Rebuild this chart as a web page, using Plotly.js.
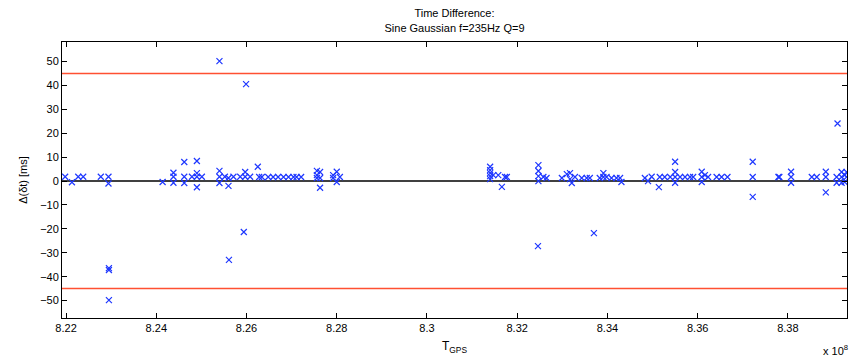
<!DOCTYPE html>
<html>
<head>
<meta charset="utf-8">
<script src="https://cdn.plot.ly/plotly-3.0.1.min.js"></script>
<style>html,body{margin:0;padding:0;background:#fff;}#chart{width:865px;height:364px;}</style>
</head>
<body>
<div id="chart"></div>
<script>
// Event times (units of 1e8 s) and time differences (ms)
const tgps = [
8.2198,8.2213,8.2227,8.2238,8.2277,8.2294,8.2294,8.2295,8.2295,8.2295,
8.2414,8.2438,8.2438,8.2438,8.2462,8.2462,8.2462,8.2479,8.2490,8.2490,
8.2490,8.2490,8.2501,8.2540,8.2540,8.2540,8.2540,8.2552,8.2560,8.2560,
8.2561,8.2571,8.2586,8.2594,8.2597,8.2597,8.2599,8.2608,8.2625,8.2628,
8.2634,8.2648,8.2659,8.2670,8.2682,8.2693,8.2704,8.2711,8.2721,8.2756,
8.2756,8.2756,8.2763,8.2763,8.2763,8.2792,8.2792,8.2800,8.2800,8.2807,
8.3140,8.3140,8.3140,8.3140,8.3140,8.3147,8.3158,8.3166,8.3173,8.3177,
8.3247,8.3247,8.3247,8.3247,8.3258,8.3265,8.3246,8.3299,8.3310,8.3317,
8.3317,8.3321,8.3328,8.3343,8.3354,8.3361,8.3370,8.3383,8.3391,8.3391,
8.3398,8.3409,8.3420,8.3428,8.3431,8.3483,8.3490,8.3498,8.3514,8.3516,
8.3527,8.3539,8.3550,8.3550,8.3550,8.3550,8.3561,8.3572,8.3583,8.3590,
8.3609,8.3609,8.3609,8.3616,8.3623,8.3642,8.3653,8.3666,8.3722,8.3722,
8.3722,8.3779,8.3781,8.3807,8.3807,8.3807,8.3853,8.3864,8.3884,8.3884,
8.3884,8.3910,8.3908,8.3908,8.3919,8.3919,8.3919,8.3926,8.3926,8.3930,
8.3930
];
const deltaT = [
1.8,-0.5,1.8,1.8,1.8,1.8,-1.0,-36.4,-37.2,-49.8,
-0.4,3.5,1.8,-0.7,8.0,1.8,-0.8,1.8,8.4,3.3,
1.8,-2.6,1.8,50.2,4.3,1.8,-0.8,1.8,1.3,-2.0,
-33.0,1.8,1.8,-21.3,3.8,1.8,40.6,1.8,6.0,1.7,
1.7,1.7,1.7,1.7,1.7,1.7,1.7,1.7,1.7,4.3,
2.5,1.3,3.8,1.3,-2.8,2.5,1.3,3.9,-0.4,1.7,
6.0,4.6,3.3,2.1,0.8,2.5,2.5,-2.4,1.7,1.7,
6.7,4.2,2.1,0.0,1.7,1.3,-27.2,1.3,2.9,3.3,
0.8,-0.8,1.7,1.3,1.3,1.3,-21.8,1.3,3.3,1.7,
1.7,1.3,1.3,1.3,-0.4,1.3,0.0,1.8,-2.5,1.7,
1.7,1.7,8.1,3.8,1.7,-0.7,1.7,1.7,1.7,1.7,
3.9,1.7,-0.4,2.5,1.7,1.7,1.7,1.7,8.1,1.7,
-6.6,1.7,1.7,3.9,1.7,-0.7,1.7,1.7,3.9,1.7,
-4.7,24.1,1.7,-0.7,3.8,1.7,-0.7,2.5,-0.4,3.8,
1.7
];
const xRange = [8.2191, 8.3931];
const yRange = [-57.3, 58.2];
const thresholdHi = [45, 45];
const thresholdLo = [-45, -45];
const zeroLine = [0, 0];
const xTickVals = [8.22,8.24,8.26,8.28,8.30,8.32,8.34,8.36,8.38];
const xTickText = ["8.22","8.24","8.26","8.28","8.3","8.32","8.34","8.36","8.38"];
const yTickVals = [-50,-40,-30,-20,-10,0,10,20,30,40,50];

const font = "Liberation Sans, Arial, Helvetica, sans-serif";

const traces = [
  {x: xRange, y: thresholdHi, mode: 'lines', line: {color: 'rgb(255,80,50)', width: 1.5}, hoverinfo: 'skip'},
  {x: xRange, y: thresholdLo, mode: 'lines', line: {color: 'rgb(255,80,50)', width: 1.5}, hoverinfo: 'skip'},
  {x: xRange, y: zeroLine, mode: 'lines', line: {color: '#000', width: 1.5}, hoverinfo: 'skip'},
  {x: tgps, y: deltaT, mode: 'markers', type: 'scatter',
   marker: {symbol: 'x-thin-open', size: 6, color: 'rgb(30,55,255)', line: {color: 'rgb(30,55,255)', width: 1.2}}}
];

const axisCommon = {
  showgrid: false, zeroline: false, showline: true, linecolor: '#000', linewidth: 1,
  mirror: 'ticks', ticks: 'inside', ticklen: 5, tickcolor: '#000', tickwidth: 1,
  tickfont: {family: font, size: 11, color: '#000'}
};

const layout = {
  width: 865, height: 364,
  margin: {l: 62, r: 18, t: 42, b: 46},
  paper_bgcolor: '#fff', plot_bgcolor: '#fff',
  showlegend: false,
  font: {family: font, size: 11, color: '#000'},
  title: {text: 'Time Difference:<br>Sine Gaussian f=235Hz Q=9', font: {family: font, size: 11, color: '#000'},
          x: 0.5, xref: 'paper', y: 0.952, yref: 'container', yanchor: 'bottom'},
  xaxis: Object.assign({}, axisCommon, {
    range: xRange, tickmode: 'array', tickvals: xTickVals, ticktext: xTickText,
    title: {text: 'T<sub>GPS</sub>', font: {family: font, size: 12, color: '#000'}, standoff: 8}
  }),
  yaxis: Object.assign({}, axisCommon, {
    range: yRange, tickmode: 'array', tickvals: yTickVals,
    title: {text: 'Δ(δt) [ms]', font: {family: font, size: 11, color: '#000'}, standoff: 10}
  }),
  annotations: [{
    text: 'x 10<sup>8</sup>', xref: 'paper', yref: 'paper', x: 0.985, y: -0.085,
    xanchor: 'center', yanchor: 'top', showarrow: false, font: {family: font, size: 11, color: '#000'}
  }]
};

Plotly.newPlot('chart', traces, layout, {displayModeBar: false, staticPlot: true});
</script>
</body>
</html>
